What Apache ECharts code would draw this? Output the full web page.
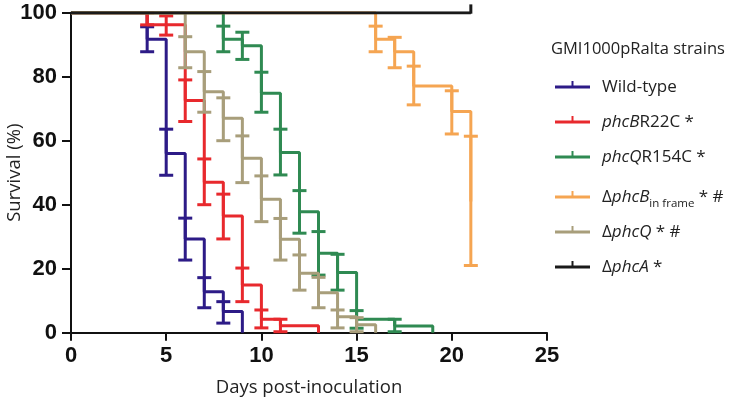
<!DOCTYPE html>
<html><head><meta charset="utf-8">
<script src="https://cdn.jsdelivr.net/npm/echarts@6/dist/echarts.min.js"></script>
<style>html,body{margin:0;padding:0;background:#fff}#c{width:733px;height:406px}</style>
</head><body><div id="c"></div>
<script>
// ---- data ----
const strainLabels = ['Wild-type', '{i|phcB}R22C *', '{i|phcQ}R154C *', 'Δ{i|phcB}{s|in frame} * #', 'Δ{i|phcQ} * #', 'Δ{i|phcA} *'];
const legendTitle = 'GMI1000pRalta strains';
const xTitle = 'Days post-inoculation';
const yTitle = 'Survival (%)';
const xTickValues = [0, 5, 10, 15, 20, 25];
const yTickValues = [0, 20, 40, 60, 80, 100];

const wtDays = [0, 4, 5, 6, 7, 8, 9];
const wtSurv = [100, 91.7, 56, 29.3, 12.8, 6.6, 0];
const wtLo   = [null, 87.8, 49.2, 22.7, 7.8, 3, null];
const wtHi   = [null, 95.6, 63.6, 35.8, 17.2, 9.7, null];

const bDays = [0, 4, 5, 6, 7, 8, 9, 10, 11, 13];
const bSurv = [100, 96.2, 96.2, 72.6, 47, 36.5, 14.9, 4.2, 2.2, 0];
const bLo   = [null, 96.2, 93, 66, 40, 29.3, 9.7, 1.5, 0.3, null];
const bHi   = [null, 100, 99, 79, 54.3, 43.3, 20.2, 7.1, 4.2, null];

const qDays = [0, 8, 9, 10, 11, 12, 13, 14, 15, 17, 19];
const qSurv = [100, 91.7, 89.7, 74.8, 56.3, 37.8, 24.8, 18.8, 4.2, 2.1, 0];
const qLo   = [null, 87.8, 85.4, 68.9, 49.3, 31.1, 18, 13.3, 1.4, 0.3, null];
const qHi   = [null, 95.8, 93.9, 81.4, 63.6, 44.4, 31.6, 24.5, 6.9, 4.2, null];

const dbDays = [0, 16, 17, 18, 20, 21];
const dbSurv = [100, 91.7, 87.8, 77.1, 69.1, 41];
const dbLo   = [null, 87.8, 82.8, 71.2, 62.1, 21];
const dbHi   = [null, 95.8, 92.3, 83.3, 75.6, 61.4];

const dqDays = [0, 6, 7, 8, 9, 10, 11, 12, 13, 14, 15, 16];
const dqSurv = [100, 87.8, 75.3, 67, 54.5, 41.7, 29.2, 18.6, 12.5, 5, 2.5, 0];
const dqLo   = [null, 82.8, 68.9, 60, 46.9, 34.7, 22.7, 13.3, 7.8, 1.5, 0.3, null];
const dqHi   = [null, 92.5, 81.6, 73.4, 61.5, 49, 35.7, 24.3, 17.3, 7.1, 4.7, null];

const daDays = [0, 21];
const daSurv = [100, 100];
const daCensor = [21, 100, 102.6];

// ---- styling ----
const colors = ['#2d1b87', '#e8292d', '#2f8a52', '#f5a552', '#a89e7b', '#1a1a1a'];
const legendRowY = [87, 122, 157, 197, 232, 267];

const groups = [
  [wtDays, wtSurv, wtLo, wtHi],
  [bDays, bSurv, bLo, bHi],
  [qDays, qSurv, qLo, qHi],
  [dbDays, dbSurv, dbLo, dbHi],
  [dqDays, dqSurv, dqLo, dqHi],
  [daDays, daSurv, null, null]
];
const drawOrder = [0, 1, 2, 3, 4, 5];

function renderErr(params, api) {
  const x = api.value(0), lo = api.value(1), hi = api.value(2);
  const a = api.coord([x, lo]), b = api.coord([x, hi]);
  const w = 7;
  const style = { stroke: api.visual('color'), lineWidth: 3, lineCap: 'butt' };
  return { type: 'group', children: [
    { type: 'line', shape: { x1: a[0], y1: a[1], x2: b[0], y2: b[1] }, style },
    { type: 'line', shape: { x1: a[0] - w, y1: a[1], x2: a[0] + w, y2: a[1] }, style },
    { type: 'line', shape: { x1: b[0] - w, y1: b[1], x2: b[0] + w, y2: b[1] }, style }
  ]};
}
function renderTick(params, api) {
  const a = api.coord([api.value(0), api.value(1)]), b = api.coord([api.value(0), api.value(2)]);
  return { type: 'line', shape: { x1: a[0], y1: a[1] + 1, x2: b[0], y2: b[1] }, style: { stroke: api.visual('color'), lineWidth: 3 } };
}

const series = [];
drawOrder.forEach((k, n) => {
  const g = groups[k];
  series.push({
    type: 'line', step: 'end', showSymbol: false, symbol: 'none', color: colors[k],
    lineStyle: { width: 3, color: colors[k] }, z: 2 + n, silent: true,
    data: g[0].map((d, i) => [d, g[1][i]])
  });
  if (g[2]) {
    const ed = [];
    g[0].forEach((d, i) => { if (g[2][i] != null) ed.push([d, g[2][i], g[3][i]]); });
    series.push({ type: 'custom', renderItem: renderErr, color: colors[k], itemStyle: { color: colors[k] },
      encode: { x: 0, y: [1, 2] }, data: ed, z: 2 + n, clip: false, silent: true });
  }
});
series.push({ type: 'custom', renderItem: renderTick, color: colors[5], itemStyle: { color: colors[5] },
  encode: { x: 0, y: [1, 2] }, data: [daCensor], z: 20, clip: false, silent: true });

const legendEls = [{
  type: 'text', x: 551, y: 49,
  style: { text: legendTitle, fontFamily: 'Open Sans', fontSize: 16.5, fill: '#222', verticalAlign: 'middle' }
}];
strainLabels.forEach((lab, i) => {
  const y = legendRowY[i];
  legendEls.push({ type: 'line', shape: { x1: 555, y1: y, x2: 590, y2: y }, style: { stroke: colors[i], lineWidth: 3 } });
  legendEls.push({ type: 'line', shape: { x1: 572.5, y1: y, x2: 572.5, y2: y - 6 }, style: { stroke: colors[i], lineWidth: 2 } });
  legendEls.push({ type: 'text', x: 602, y: y, style: {
    text: lab, fill: '#222', fontFamily: 'Open Sans', fontSize: 17, verticalAlign: 'middle',
    rich: {
      i: { fontFamily: 'Open Sans', fontSize: 17, fontStyle: 'italic', fill: '#222' },
      s: { fontFamily: 'Open Sans', fontSize: 11.5, fill: '#222', padding: [14, 0, 0, 0] }
    }
  }});
});

const chart = echarts.init(document.getElementById('c'), null, { renderer: 'canvas' });
chart.setOption({
  animation: false,
  backgroundColor: '#fff',
  grid: { left: 71, right: 186, top: 12.7, bottom: 73.3, containLabel: false, outerBoundsMode: 'none' },
  xAxis: {
    type: 'value', min: xTickValues[0], max: xTickValues[xTickValues.length - 1], interval: 5,
    splitLine: { show: false },
    axisLine: { show: true, onZero: false, lineStyle: { color: '#111', width: 2 } },
    axisTick: { show: true, length: 8, lineStyle: { color: '#111', width: 2 } },
    axisLabel: { color: '#111', fontFamily: 'Liberation Sans', fontWeight: 'bold', fontSize: 22, margin: 12 },
    name: xTitle, nameLocation: 'middle', nameGap: 46, nameMoveOverlap: false,
    nameTextStyle: { fontFamily: 'Open Sans', fontSize: 18.5, color: '#222' }
  },
  yAxis: {
    type: 'value', min: yTickValues[0], max: yTickValues[yTickValues.length - 1], interval: 20,
    splitLine: { show: false },
    axisLine: { show: true, lineStyle: { color: '#111', width: 2 } },
    axisTick: { show: true, length: 9, lineStyle: { color: '#111', width: 2 } },
    axisLabel: { color: '#111', fontFamily: 'Liberation Sans', fontWeight: 'bold', fontSize: 22, margin: 14 },
    name: yTitle, nameLocation: 'middle', nameGap: 47, nameRotate: 90, nameMoveOverlap: false,
    nameTextStyle: { fontFamily: 'Open Sans', fontSize: 18.5, color: '#222' }
  },
  series: series,
  graphic: legendEls
});
</script></body></html>
